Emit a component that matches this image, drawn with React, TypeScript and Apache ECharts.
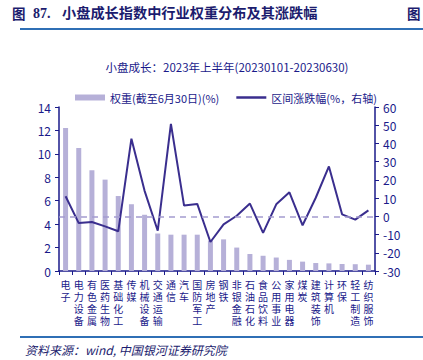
import React, { useEffect, useRef } from "react";
import * as echarts from "echarts";

const categories = ["电子", "电力设备", "有色金属", "医药生物", "基础化工", "传媒", "机械设备", "交通运输", "通信", "汽车", "国防军工", "房地产", "钢铁", "非银金融", "石油石化", "食品饮料", "公用事业", "家用电器", "煤炭", "建筑装饰", "计算机", "环保", "轻工制造", "纺织服饰"];
const weights = [12.2, 10.5, 8.6, 7.8, 6.4, 5.7, 4.8, 3.2, 3.1, 3.1, 3.1, 2.6, 2.7, 2.0, 1.45, 1.3, 1.15, 0.95, 0.8, 0.68, 0.65, 0.6, 0.58, 0.54];
const changes = [11.0, -3.7, -3.1, -5.5, -8.2, 42.6, 14.0, -7.9, 50.7, 5.9, 6.8, -14.1, -4.4, 0.3, 7.0, -9.1, 6.6, 13.2, -4.9, 10.2, 27.4, 1.1, -1.8, 3.3];
const leftTicks = { min: 0, max: 14, interval: 2 };
const rightTicks = { min: -30, max: 60, interval: 10 };

const NAVY = "#1a1a8a";
const BAR = "#b6b0d8";
const LINE = "#3a2e8e";
const HEAD = "#1c1c6e";

export default function App() {
  const ref = useRef<HTMLDivElement>(null);
  useEffect(() => {
    const chart = echarts.init(ref.current!, undefined, { renderer: "svg" });
    chart.setOption({
      animation: false,
      backgroundColor: "#ffffff",
      textStyle: { fontFamily: "'Noto Sans CJK SC', 'Noto Sans', sans-serif" },
      title: {
        text: "小盘成长：2023年上半年(20230101-20230630)",
        left: 222,
        textAlign: "center",
        top: 56,
        textStyle: { fontSize: 11.5, fontWeight: "normal", color: NAVY, fontFamily: "'Noto Sans CJK SC', sans-serif" },
      },
      legend: {
        top: 87,
        left: 70,
        itemGap: 17,
        itemWidth: 30,
        itemHeight: 6,
        textStyle: { fontSize: 11, color: NAVY, fontFamily: "'Noto Sans CJK SC', sans-serif" },
        data: [
          { name: "权重(截至6月30日)(%)", icon: "rect" },
          { name: "区间涨跌幅(%，右轴)", icon: "path://M0,0 L30,0 L30,2.5 L0,2.5 Z" },
        ],
      },
      grid: { left: 59, right: 48, top: 107, bottom: 89 },
      xAxis: {
        type: "category",
        data: categories,
        boundaryGap: true,
        axisLine: { lineStyle: { color: NAVY, width: 1.5 } },
        axisTick: { show: true, alignWithLabel: false, length: 4, lineStyle: { color: NAVY } },
        axisLabel: {
          interval: 0,
          color: NAVY,
          fontSize: 10,
          lineHeight: 12,
          margin: 8,
          fontFamily: "'Liberation Sans', 'Noto Sans CJK SC', sans-serif",
          formatter: (v: string) => v.split("").join("\n"),
        },
      },
      yAxis: [
        {
          type: "value",
          ...leftTicks,
          position: "left",
          splitLine: { show: false },
          axisLine: { show: true, lineStyle: { color: NAVY, width: 1.5 } },
          axisTick: { show: true, length: 4, lineStyle: { color: NAVY } },
          axisLabel: { color: NAVY, fontSize: 12, margin: 8 },
        },
        {
          type: "value",
          ...rightTicks,
          position: "right",
          splitLine: { show: false },
          axisLine: { show: true, lineStyle: { color: NAVY, width: 1.5 } },
          axisTick: { show: true, length: 4, lineStyle: { color: NAVY } },
          axisLabel: { color: NAVY, fontSize: 12, margin: 8 },
        },
      ],
      series: [
        {
          name: "权重(截至6月30日)(%)",
          type: "bar",
          data: weights,
          barWidth: 5,
          itemStyle: { color: BAR },
          yAxisIndex: 0,
        },
        {
          name: "区间涨跌幅(%，右轴)",
          type: "line",
          data: changes,
          yAxisIndex: 1,
          symbol: "none",
          lineStyle: { color: LINE, width: 2 },
          itemStyle: { color: LINE },
          markLine: {
            silent: true,
            symbol: "none",
            label: { show: false },
            lineStyle: { type: [6, 5], color: "#a49cd0", width: 1.5 },
            data: [{ yAxis: 0 }],
          },
        },
      ],
      graphic: [
        {
          type: "text",
          left: 12,
          top: 6,
          style: { text: "图", fill: HEAD, font: "bold 13.5px 'Noto Sans CJK SC', sans-serif" },
        },
        {
          type: "text",
          left: 33,
          top: 6,
          style: { text: "87.", fill: HEAD, font: "bold 14px 'Liberation Serif', serif" },
        },
        {
          type: "text",
          left: 62,
          top: 5,
          style: {
            text: "小盘成长指数中行业权重分布及其涨跌幅",
            fill: HEAD,
            font: "bold 14.2px 'Noto Sans CJK SC', sans-serif",
          },
        },
        {
          type: "text",
          left: 407,
          top: 6,
          style: { text: "图", fill: HEAD, font: "bold 13.5px 'Noto Sans CJK SC', sans-serif" },
        },
        { type: "rect", shape: { x: 20, y: 28, width: 403, height: 2 }, style: { fill: "#2f6fb5" } },
        { type: "rect", shape: { x: 20, y: 336, width: 403, height: 2 }, style: { fill: "#2f6fb5" } },
        {
          type: "text",
          left: 25,
          top: 343,
          style: {
            text: "资料来源：wind, 中国银河证券研究院",
            fill: HEAD,
            font: "italic 12px 'Noto Sans CJK SC', serif",
          },
        },
      ],
    });
    return () => chart.dispose();
  }, []);
  return <div ref={ref} style={{ position: "fixed", left: 0, top: 0, width: 423, height: 360 }} />;
}
